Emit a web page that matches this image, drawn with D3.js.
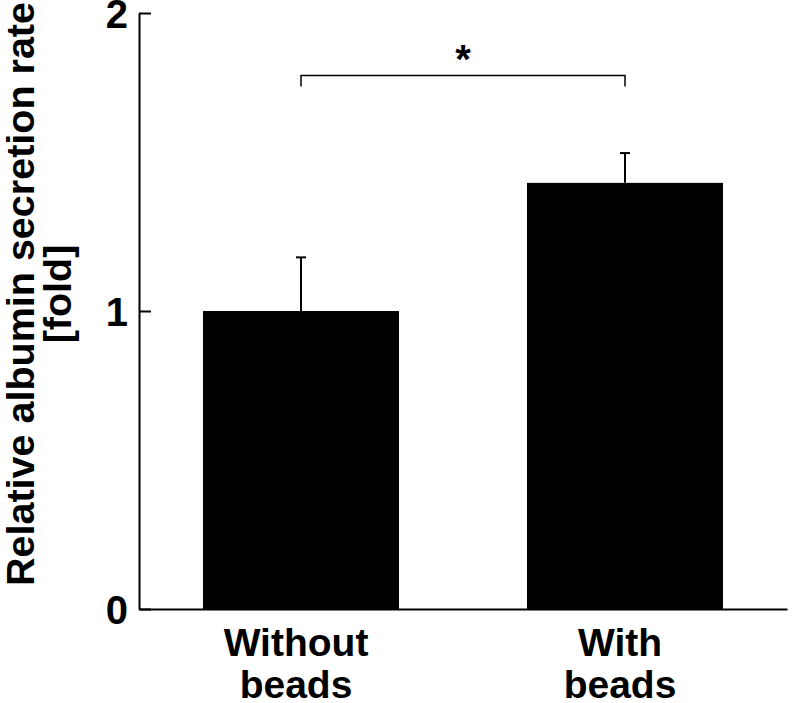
<!DOCTYPE html>
<html>
<head>
<meta charset="utf-8">
<script src="https://cdn.jsdelivr.net/npm/d3@7"></script>
<style>
  body { margin: 0; background: #fff; }
  svg text { font-family: "Liberation Sans", Arial, Helvetica, sans-serif; font-weight: bold; fill: #000; }
</style>
</head>
<body>
<svg id="chart"></svg>
<script>
// data
var groups = ["Without beads", "With beads"];
var groupLines = [["Without", "beads"], ["With", "beads"]];
var means = [1.0, 1.43];
var errors = [0.18, 0.10];
var yTicks = [0, 1, 2];
var sigPair = [0, 1];
var sigLabel = "*";
var sigLevel = 1.79;
var yTitle = ["Relative albumin secretion rate", "[fold]"];

var width = 792, height = 703;
var svg = d3.select("#chart").attr("width", width).attr("height", height);

var x = d3.scaleBand()     //band scale for the two groups
    .domain(groups)
    .range([139, 787])
    .paddingInner(0.395)
    .paddingOuter(0.1975);

var y = d3.scaleLinear()
    .domain([0, 2])
    .range([609, 13]);

// bars
svg.append("g").selectAll("rect")
    .data(means)
    .enter()
    .append("rect")
    .attr("x", (d, i) => x(groups[i]))
    .attr("y", d => y(d))
    .attr("width", x.bandwidth())
    .attr("height", d => y(0) - y(d))
    .attr("fill", "#000");

// error bars (upper only)
var eb = svg.append("g").attr("stroke", "#000").attr("stroke-width", 2);
means.forEach(function(m, i) {
    var cx = x(groups[i]) + x.bandwidth() / 2;
    eb.append("line")
        .attr("x1", cx).attr("x2", cx)
        .attr("y1", y(m)).attr("y2", y(m + errors[i]));
    eb.append("line")
        .attr("x1", cx - 5).attr("x2", cx + 5)
        .attr("y1", y(m + errors[i])).attr("y2", y(m + errors[i]));
});

// y axis, ticks pointing inward
var yAxis = svg.append("g")
    .attr("transform", "translate(139,0)")
    .call(d3.axisLeft(y).tickValues(yTicks).tickFormat(d3.format("d"))
        .tickSize(-12).tickSizeOuter(0).tickPadding(11));
yAxis.select(".domain").attr("stroke-width", 2);
yAxis.selectAll(".tick line").attr("stroke-width", 2);
yAxis.selectAll(".tick text")
    .style("font-size", "40px")
    .attr("dy", "0.36em");

// x axis line only
var xAxis = svg.append("g")
    .attr("transform", "translate(0,609)")
    .call(d3.axisBottom(x).tickSize(0).tickSizeOuter(0).tickFormat(""));
xAxis.select(".domain").attr("stroke-width", 2);

// group labels on two lines
svg.append("g").selectAll("text")
    .data(groupLines)
    .enter()
    .append("text")
    .attr("text-anchor", "middle")
    .style("font-size", "39px")
    .each(function(lines, i) {
        var t = d3.select(this);
        var cx = x(groups[i]) + x.bandwidth() / 2 - 5;
        lines.forEach(function(s, j) {
            t.append("tspan").attr("x", cx).attr("y", 656 + j * 42).text(s);
        });
    });

// significance bracket
var bx1 = x(groups[sigPair[0]]) + x.bandwidth() / 2;
var bx2 = x(groups[sigPair[1]]) + x.bandwidth() / 2;
var by = y(sigLevel);
svg.append("path")
    .attr("d", "M" + bx1 + "," + (by + 11) + "V" + by + "H" + bx2 + "V" + (by + 11))
    .attr("fill", "none")
    .attr("stroke", "#000")
    .attr("stroke-width", 1.5);
svg.append("text")
    .attr("x", (bx1 + bx2) / 2)
    .attr("y", by - 3)
    .attr("text-anchor", "middle")
    .style("font-size", "40px")
    .text(sigLabel);

// y title, two lines rotated
var title = svg.append("text")
    .attr("transform", "translate(0,294) rotate(-90)")
    .attr("text-anchor", "middle")
    .style("font-size", "39.5px");
yTitle.forEach(function(s, j) {
    title.append("tspan").attr("x", 0).attr("y", 34 + j * 37).text(s);
});
</script>
</body>
</html>
